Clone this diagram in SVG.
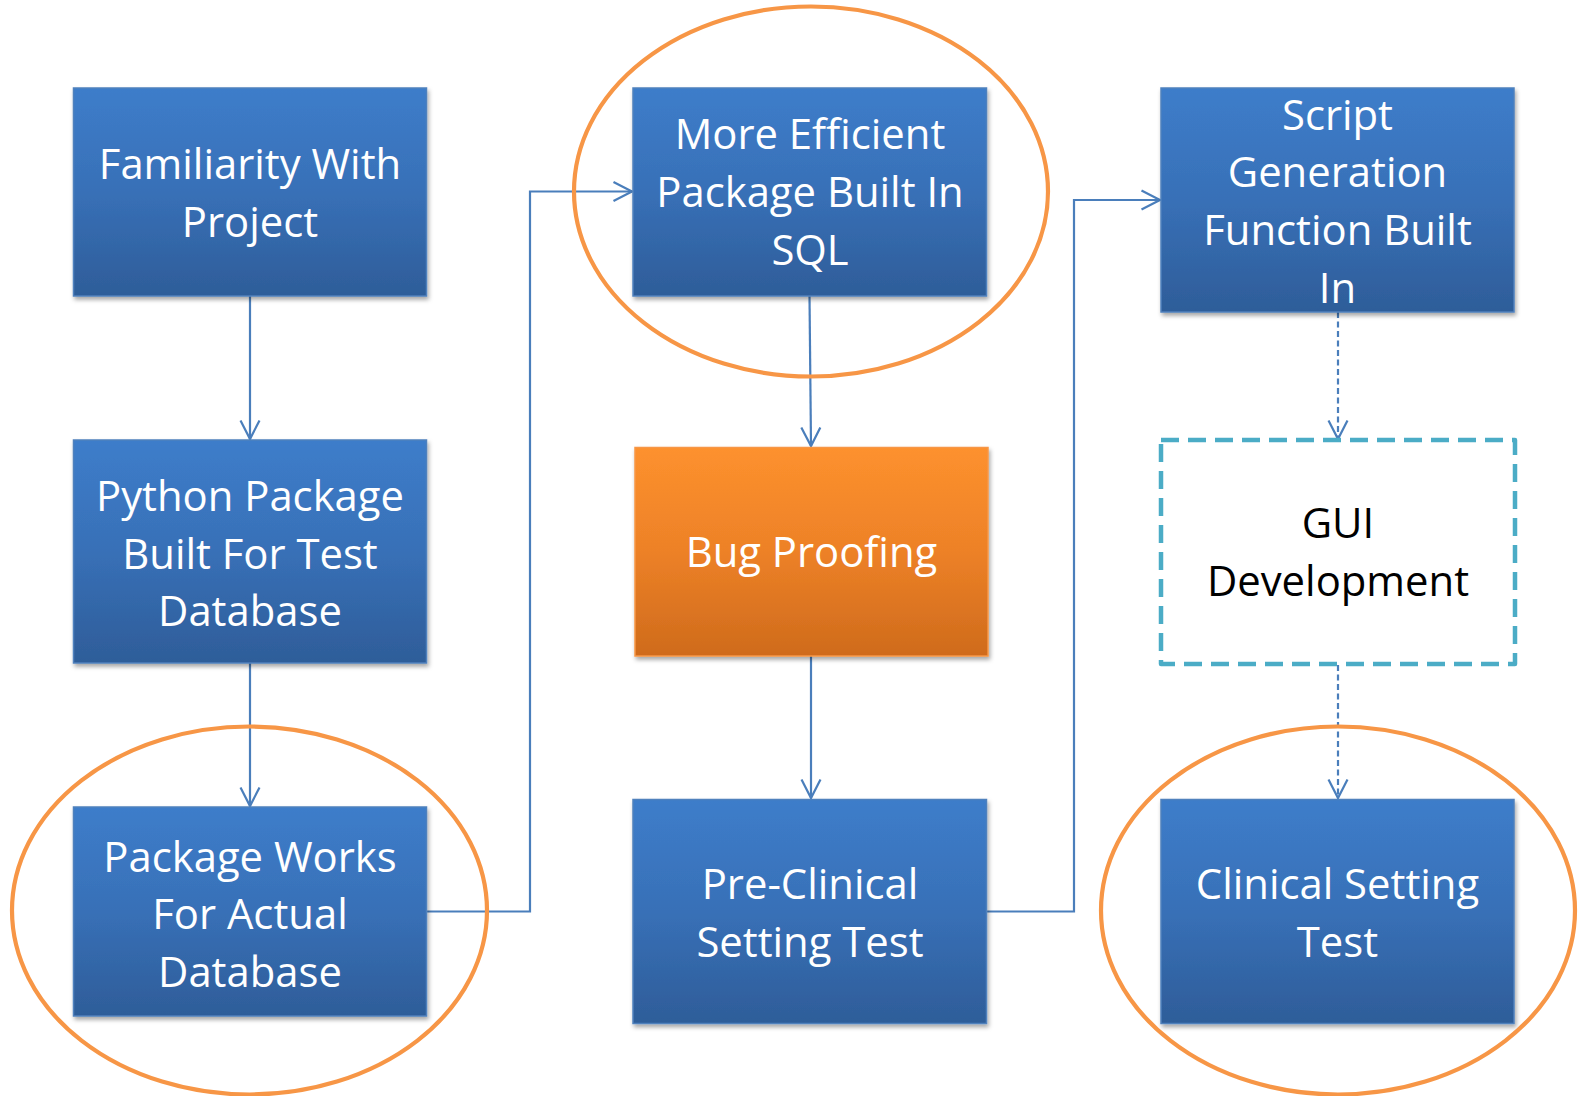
<svg xmlns="http://www.w3.org/2000/svg" width="1578" height="1096" viewBox="0 0 1578 1096">
<style>
.box{stroke:#4f81bd;stroke-width:1.5;filter:url(#sh)}
.blue{fill:url(#gb)}
.orange{fill:url(#go);stroke:#f79646}
.lbl{font-family:"Open Sans","Liberation Sans",sans-serif;font-size:41.8px;fill:#ffffff;text-anchor:middle}
.dark{fill:#000000}
.ring{fill:none;stroke:#f79646;stroke-width:4.2}
.con{fill:none;stroke:#4a7ebb;stroke-width:2.2}
.dash{stroke-dasharray:6 3.5}
</style>
<defs>
<linearGradient id="gb" x1="0" y1="0" x2="0" y2="1">
<stop offset="0" stop-color="#3d7dca"/>
<stop offset="0.5" stop-color="#3870b7"/>
<stop offset="1" stop-color="#2e5d99"/>
</linearGradient>
<linearGradient id="go" x1="0" y1="0" x2="0" y2="1">
<stop offset="0" stop-color="#fd912e"/>
<stop offset="0.5" stop-color="#ed8127"/>
<stop offset="1" stop-color="#cf6b1c"/>
</linearGradient>
<filter id="sh" x="-10%" y="-10%" width="125%" height="130%">
<feDropShadow dx="1.5" dy="3" stdDeviation="2.2" flood-color="#000" flood-opacity="0.35"/>
</filter>
<marker id="ah" markerUnits="userSpaceOnUse" markerWidth="24" markerHeight="24" viewBox="0 0 24 24" refX="21" refY="12" orient="auto">
<path d="M2.5,2.5 L21,12 L2.5,21.5" fill="none" stroke="#4a7ebb" stroke-width="2.2"/>
</marker>
</defs>
<rect width="1578" height="1096" fill="#ffffff"/>

<g id="connectors">
<line class="con" x1="250" y1="296" x2="250" y2="439" marker-end="url(#ah)"/>
<line class="con" x1="250" y1="663" x2="250" y2="806" marker-end="url(#ah)"/>
<polyline class="con" points="427,911.5 530,911.5 530,191.5 632,191.5" marker-end="url(#ah)"/>
<line class="con" x1="809.5" y1="296" x2="811" y2="446" marker-end="url(#ah)"/>
<line class="con" x1="811" y1="656" x2="811" y2="798" marker-end="url(#ah)"/>
<polyline class="con" points="987,911.5 1074,911.5 1074,200 1160,200" marker-end="url(#ah)"/>
<line class="con dash" x1="1338" y1="312" x2="1338" y2="439" marker-end="url(#ah)"/>
<line class="con dash" x1="1338" y1="665" x2="1338" y2="798" marker-end="url(#ah)"/>
</g>

<g id="n1">
<rect class="box blue" x="73.5" y="88" width="353" height="208"/>
<text class="lbl"><tspan x="250" y="179">Familiarity With</tspan><tspan x="250" y="236.7">Project</tspan></text>
</g>
<g id="n2">
<rect class="box blue" x="73.5" y="440" width="353" height="223"/>
<text class="lbl"><tspan x="250" y="511">Python Package</tspan><tspan x="250" y="568.5">Built For Test</tspan><tspan x="250" y="626">Database</tspan></text>
</g>
<g id="n3">
<rect class="box blue" x="73.5" y="807" width="353" height="209"/>
<text class="lbl"><tspan x="250" y="871.5">Package Works</tspan><tspan x="250" y="929">For Actual</tspan><tspan x="250" y="986.5">Database</tspan></text>
</g>
<g id="n4">
<rect class="box blue" x="633" y="88" width="353.5" height="208"/>
<text class="lbl"><tspan x="810" y="149">More Efficient</tspan><tspan x="810" y="206.7">Package Built In</tspan><tspan x="810" y="264.5">SQL</tspan></text>
</g>
<g id="n5">
<rect class="box orange" x="635" y="447.5" width="353" height="208.5"/>
<text class="lbl"><tspan x="811.5" y="567">Bug Proofing</tspan></text>
</g>
<g id="n6">
<rect class="box blue" x="633" y="799.5" width="353.5" height="224"/>
<text class="lbl"><tspan x="810" y="898.5">Pre-Clinical</tspan><tspan x="810" y="956.5">Setting Test</tspan></text>
</g>
<g id="n7">
<rect class="box blue" x="1161" y="88" width="353" height="224"/>
<text class="lbl"><tspan x="1337.5" y="129.5">Script</tspan><tspan x="1337.5" y="187">Generation</tspan><tspan x="1337.5" y="245">Function Built</tspan><tspan x="1337.5" y="303">In</tspan></text>
</g>
<g id="n8">
<rect x="1161" y="440" width="354" height="224" fill="#ffffff" stroke="#4bacc6" stroke-width="4.5" stroke-dasharray="18 9" stroke-linejoin="round"/>
<text class="lbl dark"><tspan x="1338" y="538">GUI</tspan><tspan x="1338" y="595.5">Development</tspan></text>
</g>
<g id="n9">
<rect class="box blue" x="1161" y="799.5" width="353" height="224"/>
<text class="lbl"><tspan x="1337.5" y="898.5">Clinical Setting</tspan><tspan x="1337.5" y="956.5">Test</tspan></text>
</g>

<g id="highlights">
<ellipse class="ring" cx="811" cy="191.5" rx="237" ry="185"/>
<ellipse class="ring" cx="249.5" cy="910.5" rx="237.5" ry="184"/>
<ellipse class="ring" cx="1338" cy="910.5" rx="237" ry="184"/>
</g>
</svg>
